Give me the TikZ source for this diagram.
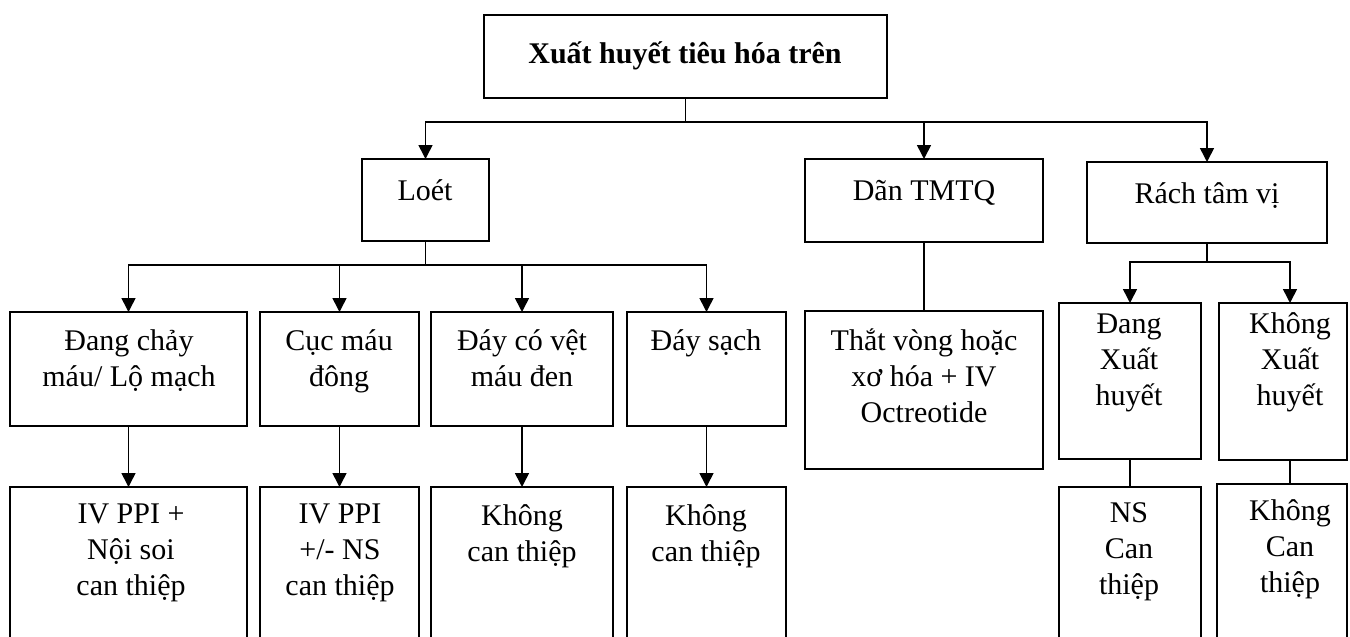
\documentclass[tikz,border=0pt]{standalone}
\usepackage{fontspec}
\setmainfont{Liberation Serif}
\usetikzlibrary{arrows.meta}
\newcommand{\mlines}[1]{\begin{tabular}[t]{@{}c@{}}#1\end{tabular}}
\begin{document}
\begin{tikzpicture}[x=1pt,y=-1pt,
  box/.style={draw, line width=1.6pt, anchor=north west, inner sep=0pt, outer sep=0pt},
  txt/.style={anchor=base, inner sep=0pt, font=\fontsize{30}{36}\selectfont},
  conn/.style={line width=1.6pt},
  arr/.style={conn, -{Triangle[width=14pt,length=14pt]}}]
\clip (0,0) rectangle (1350,637);
% boxes
\node[box, minimum width=403pt, minimum height=83pt] (top) at (484,15) {};
\node[box, minimum width=127pt, minimum height=82pt] (loet) at (362,159) {};
\node[box, minimum width=238pt, minimum height=83pt] (dan) at (805,159) {};
\node[box, minimum width=240pt, minimum height=81pt] (rach) at (1087,162) {};
\node[box, minimum width=237pt, minimum height=114pt] (b1) at (10,312) {};
\node[box, minimum width=159pt, minimum height=114pt] (b2) at (260,312) {};
\node[box, minimum width=182pt, minimum height=114pt] (b3) at (431,312) {};
\node[box, minimum width=159pt, minimum height=114pt] (b4) at (627,312) {};
\node[box, minimum width=237pt, minimum height=170pt] (c1) at (10,487) {};
\node[box, minimum width=159pt, minimum height=170pt] (c2) at (260,487) {};
\node[box, minimum width=182pt, minimum height=170pt] (c3) at (431,487) {};
\node[box, minimum width=159pt, minimum height=170pt] (c4) at (627,487) {};
\node[box, minimum width=238pt, minimum height=158pt] (tv) at (805,311) {};
\node[box, minimum width=142pt, minimum height=156pt] (dang) at (1059,303) {};
\node[box, minimum width=128pt, minimum height=157pt] (khong) at (1219,303) {};
\node[box, minimum width=142pt, minimum height=170pt] (ns) at (1059,487) {};
\node[box, minimum width=130pt, minimum height=173pt] (kci) at (1217,484) {};
% texts
\node[txt, font=\fontsize{30}{36}\selectfont\bfseries] (ttop) at (685,63) {Xuất huyết tiêu hóa trên};
\node[txt] (tloet) at (425,200) {Loét};
\node[txt] (tdan) at (924,200) {Dãn TMTQ};
\node[txt] (track) at (1207,203) {Rách tâm vị};
\node[txt] (tb1) at (129,350) {\mlines{Đang chảy\\máu/ Lộ mạch}};
\node[txt] (tb2) at (339,350) {\mlines{Cục máu\\đông}};
\node[txt] (tb3) at (522,350) {\mlines{Đáy có vệt\\máu đen}};
\node[txt] (tb4) at (706,350) {Đáy sạch};
\node[txt] (tc1) at (131,523) {\mlines{IV PPI +\\Nội soi\\can thiệp}};
\node[txt] (tc2) at (340,523) {\mlines{IV PPI\\+/- NS\\can thiệp}};
\node[txt] (tc3) at (522,525) {\mlines{Không\\can thiệp}};
\node[txt] (tc4) at (706,525) {\mlines{Không\\can thiệp}};
\node[txt] (ttv) at (924,350) {\mlines{Thắt vòng hoặc\\xơ hóa + IV\\Octreotide}};
\node[txt] (tdang) at (1129,333) {\mlines{Đang\\Xuất\\huyết}};
\node[txt] (tkhong) at (1290,333) {\mlines{Không\\Xuất\\huyết}};
\node[txt] (tns) at (1129,522) {\mlines{NS\\Can\\thiệp}};
\node[txt] (tkci) at (1290,520) {\mlines{Không\\Can\\thiệp}};
% junctions
\coordinate (j0) at (top.south |- 0,122);
\coordinate (j1) at (loet.south |- 0,265);
\coordinate (j2) at (rach.south |- 0,262);
\coordinate (kin) at (1290,303);
\coordinate (kout) at (1290,460);
\coordinate (kcin) at (1290,484);
% connectors
\draw[conn] (top.south) -- (j0);
\draw[arr] (j0) -| (loet.north);
\draw[arr] (j0) -| (dan.north);
\draw[arr] (j0) -| (rach.north);
\draw[conn] (loet.south) -- (j1);
\draw[arr] (j1) -| (b1.north);
\draw[arr] (j1) -| (b2.north);
\draw[arr] (j1) -| (b3.north);
\draw[arr] (j1) -| (b4.north);
\draw[arr] (b1.south) -- (c1.north);
\draw[arr] (b2.south) -- (c2.north);
\draw[arr] (b3.south) -- (c3.north);
\draw[arr] (b4.south) -- (c4.north);
\draw[conn] (dan.south) -- (tv.north);
\draw[conn] (rach.south) -- (j2);
\draw[arr] (j2) -| (dang.north);
\draw[arr] (j2) -| (kin);
\draw[conn] (dang.south) -- (ns.north);
\draw[conn] (kout) -- (kcin);
\end{tikzpicture}
\end{document}
